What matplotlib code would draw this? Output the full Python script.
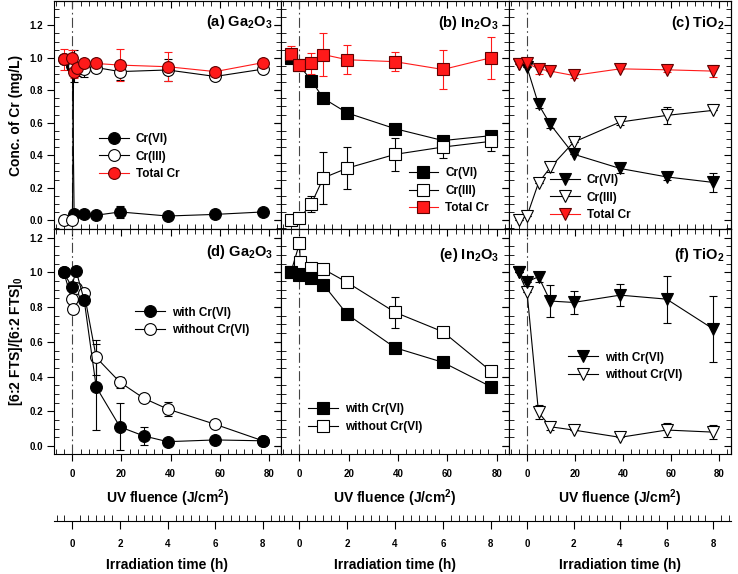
import matplotlib
matplotlib.use('Agg')
import matplotlib.pyplot as plt
from matplotlib.ticker import MultipleLocator
import numpy as np

plt.rcParams['font.family'] = ['Liberation Sans', 'DejaVu Sans']
plt.rcParams['font.weight'] = 'bold'
plt.rcParams['mathtext.fontset'] = 'custom'
plt.rcParams['mathtext.rm'] = 'Liberation Sans:bold'
plt.rcParams['mathtext.bf'] = 'Liberation Sans:bold'
plt.rcParams['mathtext.it'] = 'Liberation Sans:bold'
plt.rcParams['mathtext.default'] = 'bf'

# ---------------- data ----------------
# (a) Ga2O3 - Cr speciation
ga_x6 = [-3.5, 0.0, 0.7, 4.8, 9.7, 19.4, 38.8, 58.2, 77.6]
ga_cr6 = [0.99, 0.95, 0.035, 0.035, 0.03, 0.05, 0.025, 0.035, 0.05]
ga_cr6_err = [0, 0, 0, 0, 0, 0.035, 0, 0, 0]
ga_x = [-3.5, 0.0, 0.5, 1.9, 4.8, 9.7, 19.4, 38.8, 58.2, 77.6]
ga_cr3 = [0.0, 0.0, 0.95, 0.93, 0.93, 0.94, 0.915, 0.925, 0.885, 0.93]
ga_cr3_err = [0, 0, 0.1, 0.04, 0.05, 0.025, 0.05, 0.07, 0.02, 0.0]
ga_tot = [0.99, 1.0, 0.915, 0.94, 0.965, 0.965, 0.955, 0.945, 0.915, 0.97]
ga_tot_err = [0.065, 0.05, 0.04, 0.03, 0.03, 0.03, 0.1, 0.09, 0.02, 0.02]

# (b) In2O3
in_x = [-3.5, 0.0, 4.8, 9.7, 19.4, 38.8, 58.2, 77.6]
in_cr6 = [1.0, 0.953, 0.86, 0.75, 0.66, 0.563, 0.49, 0.52]
in_cr6_err = [0, 0.02, 0.02, 0.02, 0.02, 0.02, 0.03, 0.03]
in_cr3 = [0.0, 0.01, 0.10, 0.26, 0.32, 0.405, 0.45, 0.485]
in_cr3_err = [0, 0, 0.05, 0.16, 0.13, 0.1, 0.07, 0.06]
in_tot = [1.025, 0.953, 0.967, 1.02, 0.988, 0.976, 0.928, 1.0]
in_tot_err = [0.05, 0.02, 0.065, 0.13, 0.09, 0.06, 0.12, 0.13]

# (c) TiO2
ti_x = [-3.5, 0.0, 4.8, 9.7, 19.4, 38.8, 58.2, 77.6]
ti_cr6 = [0.96, 0.942, 0.713, 0.59, 0.406, 0.318, 0.266, 0.232]
ti_cr6_err = [0, 0, 0.02, 0.02, 0, 0.03, 0.02, 0.06]
ti_cr3 = [0.0, 0.025, 0.23, 0.324, 0.48, 0.604, 0.645, 0.676]
ti_cr3_err = [0, 0, 0, 0.03, 0, 0.02, 0.05, 0]
ti_tot = [0.963, 0.967, 0.932, 0.918, 0.891, 0.932, 0.926, 0.918]
ti_tot_err = [0, 0, 0.03, 0, 0.015, 0, 0.015, 0.035]

# (d) Ga2O3 - 6:2 FTS
gd_xw = [-3.5, -0.3, 1.5, 4.8, 9.7, 19.4, 29.1, 38.8, 58.2, 77.6]
gd_with = [1.0, 0.917, 1.01, 0.84, 0.34, 0.11, 0.058, 0.025, 0.035, 0.03]
gd_with_err = [0, 0, 0, 0, 0.25, 0.135, 0.05, 0, 0, 0]
gd_xo = [-3.5, -0.3, 0.3, 1.5, 4.8, 9.7, 19.4, 29.1, 38.8, 58.2, 77.6]
gd_wo = [1.0, 0.846, 0.79, 0.91, 0.88, 0.51, 0.367, 0.275, 0.213, 0.125, 0.03]
gd_wo_err = [0, 0, 0, 0, 0, 0.1, 0.03, 0, 0.04, 0, 0]

# (e) In2O3 - 6:2 FTS
ie_xw = [-3.5, 0.0, 4.8, 9.7, 19.4, 38.8, 58.2, 77.6]
ie_with = [1.0, 0.985, 0.965, 0.93, 0.758, 0.566, 0.482, 0.342]
ie_with_err = [0, 0.03, 0, 0, 0, 0, 0, 0]
ie_xo = [-3.5, 0.0, 0.3, 4.8, 9.7, 19.4, 38.8, 58.2, 77.6]
ie_wo = [1.0, 1.167, 1.061, 1.023, 1.019, 0.942, 0.77, 0.658, 0.432]
ie_wo_err = [0, 0.03, 0, 0, 0, 0, 0.09, 0.03, 0.03]

# (f) TiO2 - 6:2 FTS
tf_x = [-3.5, 0.0, 4.8, 9.7, 19.4, 38.8, 58.2, 77.6]
tf_with = [1.0, 0.946, 0.975, 0.835, 0.827, 0.869, 0.846, 0.674]
tf_with_err = [0, 0, 0.03, 0.09, 0.065, 0.065, 0.135, 0.19]
tf_wo = [1.0, 0.888, 0.194, 0.111, 0.092, 0.05, 0.092, 0.08]
tf_wo_err = [0, 0, 0.04, 0.02, 0, 0, 0.04, 0.04]

titles = [r'(a) Ga$_2$O$_3$', r'(b) In$_2$O$_3$', r'(c) TiO$_2$',
          r'(d) Ga$_2$O$_3$', r'(e) In$_2$O$_3$', r'(f) TiO$_2$']
cr_labels = ['Cr(VI)', 'Cr(III)', 'Total Cr']
fts_labels = ['with Cr(VI)', 'without Cr(VI)']
fluence_per_hour = 9.7

# ---------------- layout ----------------
W, H = 738, 574
fig = plt.figure(figsize=(W / 100, H / 100), dpi=100)

cols = [(54, 281), (281, 509), (509, 731)]
rows = [(1, 229), (229, 454)]
XL = (-7.5, 85)
YL = [(-0.055, 1.35), (-0.046, 1.25)]
MS = {'o': 8.5, 's': 8, 'v': 9}


def add_ax(x0, y0, x1, y1):
    return fig.add_axes([x0 / W, 1 - y1 / H, (x1 - x0) / W, (y1 - y0) / H])


def style(ax, r, c):
    ax.set_xlim(*XL)
    ax.set_ylim(*YL[r])
    ax.xaxis.set_major_locator(MultipleLocator(20))
    ax.xaxis.set_minor_locator(MultipleLocator(20 / 6))
    ax.yaxis.set_major_locator(MultipleLocator(0.2))
    ax.yaxis.set_minor_locator(MultipleLocator(0.05))
    ax.tick_params(which='major', direction='out', length=5, width=0.8,
                   labelsize=7, pad=3)
    ax.tick_params(which='minor', direction='in', length=3.5, width=0.6)
    ax.tick_params(axis='x', which='major', pad=6)
    for s in ax.spines.values():
        s.set_linewidth(0.8)
    if r == 0:
        ax.tick_params(labelbottom=False)
    if c != 0:
        ax.tick_params(labelleft=False)
    ax.yaxis.set_major_formatter(matplotlib.ticker.FormatStrFormatter('%.1f'))
    # inward ticks on right and top
    sy = ax.secondary_yaxis('right')
    sy.yaxis.set_major_locator(MultipleLocator(0.2))
    sy.yaxis.set_minor_locator(MultipleLocator(0.05))
    sy.tick_params(which='major', direction='in', length=5, width=0.8, labelright=False)
    sy.tick_params(which='minor', direction='in', length=3.5, width=0.6)
    sy.spines['right'].set_linewidth(0.8)
    sx = ax.secondary_xaxis('top')
    sx.xaxis.set_major_locator(MultipleLocator(20))
    sx.xaxis.set_minor_locator(MultipleLocator(20 / 6))
    sx.tick_params(which='major', direction='in', length=5, width=0.8, labeltop=False)
    sx.tick_params(which='minor', direction='in', length=3.5, width=0.6)
    sx.spines['top'].set_linewidth(0.8)
    ax.axvline(0, color='#444444', lw=0.8, ls=(0, (9, 3, 1.5, 3)), zorder=0.5)


def series(ax, x, y, err, marker, mfc, mec, lc):
    ax.errorbar(x, y, yerr=err, fmt='none', ecolor=lc, elinewidth=0.8,
                capsize=3, capthick=0.8, zorder=2)
    ln, = ax.plot(x, y, '-', marker=marker, color=lc, mfc=mfc, mec=mec,
                  ms=MS[marker], mew=0.8, lw=0.8, zorder=3)
    return ln


RED = '#ff1a1a'

axes = {}
for r in range(2):
    for c in range(3):
        ax = add_ax(cols[c][0], rows[r][0], cols[c][1], rows[r][1])
        style(ax, r, c)
        axes[(r, c)] = ax

# top row
top_data = [
    (ga_x6, ga_cr6, ga_cr6_err, ga_x, ga_cr3, ga_cr3_err, ga_x, ga_tot, ga_tot_err, 'o'),
    (in_x, in_cr6, in_cr6_err, in_x, in_cr3, in_cr3_err, in_x, in_tot, in_tot_err, 's'),
    (ti_x, ti_cr6, ti_cr6_err, ti_x, ti_cr3, ti_cr3_err, ti_x, ti_tot, ti_tot_err, 'v'),
]
top_leg = [(0.2, 0.42), (0.56, 0.27), (0.185, 0.24)]
for c, d in enumerate(top_data):
    ax = axes[(0, c)]
    m = d[9]
    h1 = series(ax, d[0], d[1], d[2], m, 'black', 'black', 'black')
    h2 = series(ax, d[3], d[4], d[5], m, 'white', 'black', 'black')
    h3 = series(ax, d[6], d[7], d[8], m, RED, '#600000', RED)
    ax.legend([h1, h2, h3], cr_labels, loc='upper left', bbox_to_anchor=top_leg[c],
              frameon=False, prop={'size': 8.5, 'weight': 'bold'}, handlelength=2.5,
              handletextpad=0.6, labelspacing=0.45, borderpad=0, borderaxespad=0)

bot_data = [
    (gd_xw, gd_with, gd_with_err, gd_xo, gd_wo, gd_wo_err, 'o'),
    (ie_xw, ie_with, ie_with_err, ie_xo, ie_wo, ie_wo_err, 's'),
    (tf_x, tf_with, tf_with_err, tf_x, tf_wo, tf_wo_err, 'v'),
]
bot_leg = [(0.358, 0.655), (0.119, 0.225), (0.266, 0.455)]
for c, d in enumerate(bot_data):
    ax = axes[(1, c)]
    m = d[6]
    h2 = series(ax, d[3], d[4], d[5], m, 'white', 'black', 'black')
    h1 = series(ax, d[0], d[1], d[2], m, 'black', 'black', 'black')
    ax.legend([h1, h2], fts_labels, loc='upper left', bbox_to_anchor=bot_leg[c],
              frameon=False, prop={'size': 8.5, 'weight': 'bold'}, handlelength=2.5,
              handletextpad=0.6, labelspacing=0.45, borderpad=0, borderaxespad=0)

title_pos = [(0.965, 0.91), (0.957, 0.905), (0.97, 0.905),
             (0.965, 0.9), (0.957, 0.885), (0.97, 0.885)]
for i, t in enumerate(titles):
    r, c = divmod(i, 3)
    ax = axes[(r, c)]
    ax.text(title_pos[i][0], title_pos[i][1], t, transform=ax.transAxes,
            ha='right', va='center', fontsize=10.5, fontweight='bold', zorder=5)

# time axes
for c in range(3):
    x0, x1 = cols[c]
    tax = fig.add_axes([x0 / W, 1 - 521 / H, (x1 - x0) / W, 0.5 / H])
    tax.patch.set_visible(False)
    for s in ['top', 'left', 'right']:
        tax.spines[s].set_visible(False)
    tax.spines['bottom'].set_linewidth(0.8)
    tax.set_yticks([])
    tax.set_xlim(XL[0] / fluence_per_hour, XL[1] / fluence_per_hour)
    tax.xaxis.set_major_locator(MultipleLocator(2))
    tax.xaxis.set_minor_locator(MultipleLocator(1 / 3))
    tax.tick_params(which='major', direction='out', length=6, width=0.8,
                    labelsize=7, pad=7)
    tax.tick_params(which='minor', direction='in', length=4, width=0.6)
    cx = (x0 + x1) / 2 / W
    fig.text(cx, 1 - 498 / H, r'UV fluence (J/cm$^2$)', ha='center', va='center',
             fontsize=10, fontweight='bold')
    fig.text(cx, 1 - 565 / H, 'Irradiation time (h)', ha='center', va='center',
             fontsize=10, fontweight='bold')

fig.text(16 / W, 1 - 115 / H, 'Conc. of Cr (mg/L)', rotation=90, ha='center',
         va='center', fontsize=10, fontweight='bold')
fig.text(16 / W, 1 - 341 / H, r'[6:2 FTS]/[6:2 FTS]$_0$', rotation=90, ha='center',
         va='center', fontsize=10, fontweight='bold')

fig.savefig('out.png', dpi=100)
